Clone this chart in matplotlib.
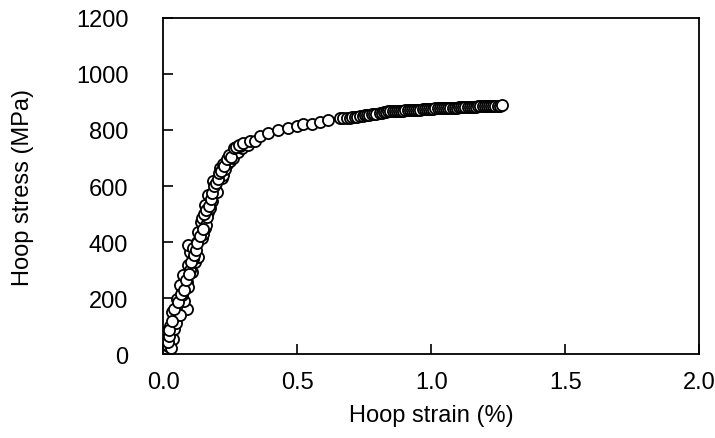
import numpy as np
import matplotlib.pyplot as plt

plt.rcParams['font.family'] = ['Liberation Sans', 'DejaVu Sans']

# Hoop strain (%) and hoop stress (MPa)
# steep (elastic) part
strain_a = [0.014, 0.020, 0.038, 0.030, 0.008, 0.018, 0.026, 0.040, 0.045, 0.022,
            0.032, 0.048, 0.057, 0.088, 0.051, 0.062, 0.070, 0.080, 0.063, 0.072,
            0.088, 0.076, 0.095, 0.107, 0.094, 0.100, 0.119, 0.132, 0.100, 0.112,
            0.094, 0.125, 0.110, 0.144, 0.132, 0.150, 0.156, 0.140, 0.144, 0.160,
            0.169, 0.165, 0.156, 0.181, 0.169, 0.176, 0.194, 0.187, 0.200, 0.219,
            0.212, 0.225, 0.237, 0.232, 0.243, 0.250, 0.258, 0.268, 0.262, 0.275,
            0.280, 0.293, 0.287, 0.305, 0.318,
            0.024, 0.035, 0.042, 0.055, 0.066, 0.078, 0.084, 0.098, 0.104, 0.116,
            0.122, 0.128, 0.138, 0.148, 0.152, 0.162, 0.172, 0.178, 0.184, 0.190,
            0.197, 0.205, 0.210, 0.216, 0.222, 0.228, 0.240, 0.247, 0.254, 0.265,
            0.272, 0.284, 0.298]
stress_a = [18, 30, 54, 22, 78, 45, 102, 90, 126, 65,
            150, 110, 174, 162, 198, 140, 222, 190, 245, 210,
            258, 281, 240, 294, 317, 300, 329, 347, 365, 340,
            389, 401, 380, 413, 437, 430, 449, 470, 485, 460,
            509, 490, 533, 545, 569, 520, 593, 617, 580, 629,
            665, 640, 677, 660, 701, 690, 715, 725, 700, 730,
            720, 737, 743, 750, 748,
            85, 120, 160, 185, 215, 230, 265, 285, 330, 355,
            370, 395, 420, 445, 500, 515, 530, 555, 575, 600,
            610, 625, 645, 655, 680, 670, 695, 710, 705, 735,
            740, 745, 755]
# knee and plastic part
strain_b = [0.324, 0.343, 0.361, 0.392, 0.430, 0.467, 0.498, 0.523, 0.554, 0.585,
            0.616, 0.659, 0.672, 0.685, 0.696, 0.705, 0.715, 0.725, 0.735, 0.745,
            0.752, 0.760, 0.770, 0.780, 0.788, 0.796, 0.808, 0.816, 0.825, 0.833,
            0.840, 0.848, 0.856, 0.864, 0.872, 0.880, 0.888, 0.896, 0.904, 0.912,
            0.920, 0.928, 0.936, 0.944, 0.952, 0.960, 0.968, 0.976, 0.984, 0.992,
            1.000, 1.008, 1.016, 1.024, 1.032, 1.040, 1.048, 1.056, 1.064, 1.072,
            1.080, 1.088, 1.096, 1.104, 1.112, 1.120, 1.128, 1.136, 1.144, 1.152,
            1.160, 1.168, 1.176, 1.184, 1.192, 1.200, 1.208, 1.216, 1.224, 1.232,
            1.240, 1.248, 1.256, 1.266]
stress_b = [761, 761, 779, 790, 799, 806, 815, 820, 820, 829,
            835, 841, 842, 843, 844, 845, 846, 848, 849, 850,
            852, 853, 854, 856, 857, 858, 862, 862, 863, 864,
            866, 866, 867, 867, 868, 868, 869, 869, 870, 870,
            871, 871, 872, 872, 873, 873, 874, 874, 875, 875,
            876, 876, 877, 877, 877, 878, 878, 879, 879, 879,
            880, 880, 880, 881, 881, 881, 882, 882, 882, 883,
            883, 883, 884, 884, 884, 885, 885, 885, 886, 886,
            886, 887, 887, 888]

x_ticks = [0.0, 0.5, 1.0, 1.5, 2.0]
y_ticks = [0, 200, 400, 600, 800, 1000, 1200]

fig = plt.figure(figsize=(7.15, 4.39), dpi=100)
ax = fig.add_axes([0.228, 0.191, 0.750, 0.766])

for xs, ys in [(strain_a, stress_a), (strain_b, stress_b)]:
    ax.plot(xs, ys, 'o', markersize=8, markerfacecolor='white',
            markeredgecolor='black', markeredgewidth=1.3, linestyle='none')

ax.set_xlim(0, 2.0)
ax.set_ylim(0, 1200)
ax.set_xticks(x_ticks)
ax.set_xticklabels(['%.1f' % v for v in x_ticks])
ax.set_yticks(y_ticks)
ax.tick_params(axis='both', direction='in', length=7, width=1.2,
               labelsize=17, colors='black')
ax.tick_params(axis='y', pad=25)
ax.tick_params(axis='x', pad=12)

for side in ['left', 'bottom', 'right', 'top']:
    ax.spines[side].set_linewidth(1.3)
    ax.spines[side].set_color('black')

ax.set_xlabel('Hoop strain (%)', fontsize=17, labelpad=8)
ax.set_ylabel('Hoop stress (MPa)', fontsize=17, labelpad=30)

plt.savefig('out.png', dpi=100)
